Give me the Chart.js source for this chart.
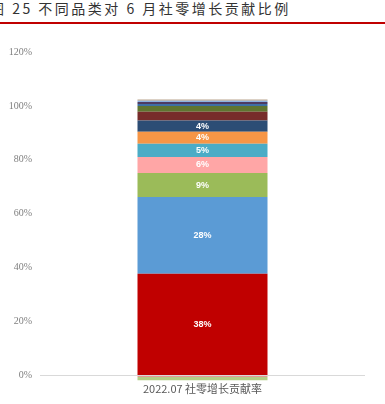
<!DOCTYPE html>
<html>
<head>
<meta charset="utf-8">
<script src="https://cdn.jsdelivr.net/npm/chart.js@4/dist/chart.umd.min.js"></script>
<style>
body{margin:0;width:385px;height:404px;overflow:hidden;background:#fff;position:relative}
#title{position:absolute;left:-10px;top:-2px;font:14px "Noto Sans CJK SC";color:#333;white-space:nowrap;letter-spacing:2.5px}
#rule{position:absolute;left:0;top:22px;width:385px;height:2px;background:#c00000}
#wrap{position:absolute;left:0;top:0;width:385px;height:404px}
</style>
</head>
<body>
<div id="title">图 25 不同品类对 6 月社零增长贡献比例</div>
<div id="rule"></div>
<div id="wrap"><canvas id="c"></canvas></div>
<script>
// one bar, stacked shares (%)
let categories = ['2022.07 社零增长贡献率']
let seriesNames = ['品类1','品类2','品类3','品类4','品类5','品类6','品类7','品类8','品类9','品类10','品类11','品类12','品类13','品类14','品类15']
let seriesValues = [37.8, 28.4, 8.9, 6.0, 4.9, 4.4, 4.2, 3.2, 2.2, 0.7, 0.8, 0.4, 0.5, -0.5, -1.2]
let seriesColors = ['#c00000','#5b9bd5','#9bbb59','#ffa6a6','#4bacc6','#f79646','#2c4d75','#772c2a','#5f7530','#3e6fa5','#4d3b62','#8db3e2','#b9a48c','#e29a96','#b3cf86']
let tickValues = [0,20,40,60,80,100,120]
let tickLabels = ['0%','20%','40%','60%','80%','100%','120%']

let datasets = seriesNames.map((n,i)=>({
	label:n,
	data:[seriesValues[i]],
	backgroundColor:seriesColors[i],
	borderWidth:0,
	barPercentage:0.4,
	categoryPercentage:1
}))

let segLabels = {
	id:'segLabels',
	afterDatasetsDraw:(chart)=>{
		let ctx = chart.ctx
		ctx.save()
		ctx.fillStyle = '#fff'
		ctx.font = 'bold 9px "Liberation Sans Narrow", "Liberation Sans", sans-serif'
		ctx.textAlign = 'center'
		ctx.textBaseline = 'middle'
		chart.data.datasets.forEach((ds,i)=>{
			let v = ds.data[0]
			if(v < 3.5) return
			let el = chart.getDatasetMeta(i).data[0]
			ctx.fillText(Math.round(v)+'%', el.x, (el.y+el.base)/2)
		})
		ctx.restore()
	}
}

new Chart(document.getElementById('c'),{
	type:'bar',
	data:{labels:categories,datasets:datasets},
	plugins:[segLabels],
	options:{
		responsive:true,
		maintainAspectRatio:false,
		animation:false,
		layout:{padding:{top:52,right:20,left:0,bottom:0}},
		plugins:{legend:{display:false},tooltip:{enabled:false}},
		scales:{
			x:{
				stacked:true,
				grid:{display:false,drawTicks:false},
				border:{display:false},
				ticks:{color:'#595959',padding:1,font:{family:'"Noto Sans CJK SC"',size:11}},
				afterFit:s=>{s.height=23}
			},
			y:{
				stacked:true,
				min:-2,max:120,
				grid:{drawTicks:false,color:c=>c.tick && c.tick.value===0 ? '#d9d9d9' : 'rgba(0,0,0,0)'},
				border:{display:false},
				afterBuildTicks:s=>{s.ticks = tickValues.map(v=>({value:v}))},
				ticks:{padding:8,color:'#7f7f7f',
					font:{family:'"Liberation Serif"',size:10},
					callback:(v,i)=>tickLabels[i]},
				afterFit:s=>{s.width=40}
			}
		}
	}
})
</script>
</body>
</html>
